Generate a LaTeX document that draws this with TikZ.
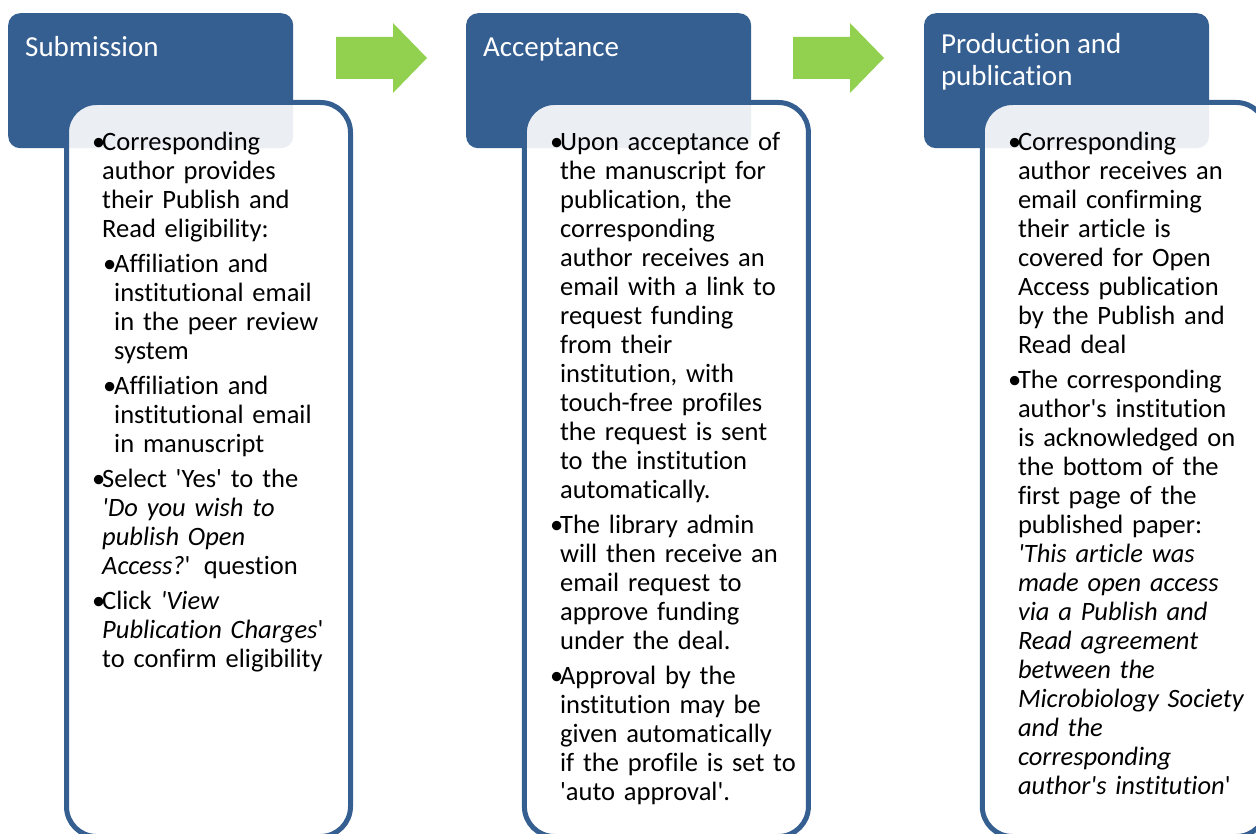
\documentclass[tikz,border=0pt]{standalone}
\usepackage{fontspec}
\setmainfont{Carlito}[Ligatures={TeX,NoCommon}]
\usepackage{xcolor}
\definecolor{colorHead}{HTML}{365F91}
\definecolor{colorArrow}{HTML}{92D050}
\usepackage{tikz}
\usetikzlibrary{positioning}
\newcommand{\sq}{\textquotesingle}
\newcommand{\bulA}{\par\leftskip=10pt\parindent=-10pt\makebox[10pt][l]{\rule{0pt}{22pt}\textbullet}}
\newcommand{\bulB}{\par\leftskip=22pt\parindent=-11pt\makebox[11pt][l]{\rule{0pt}{22pt}\textbullet}}
\tikzset{
  headbox/.style={fill=colorHead, rounded corners=12pt, inner sep=0pt, minimum width=285pt, minimum height=135pt},
  detailbox/.style={draw=colorHead, line width=5pt, fill=white, fill opacity=0.9, rounded corners=30pt, inner sep=0pt, minimum width=284pt, minimum height=734pt},
  headtext/.style={inner sep=0pt, text=white, align=left, font={\fontsize{29}{32}\selectfont}},
  bodytext/.style={inner sep=0pt, text width=300pt, align=left, font={\fontsize{26.5}{29}\selectfont\setlength{\parskip}{6pt}}},
  steparrow/.style={fill=colorArrow}
}
\begin{document}
\begin{tikzpicture}[x=1pt, y=-1pt]
\clip (0,0) rectangle (1256,834);
\useasboundingbox (0,0) rectangle (1256,834);
% headers
\node[headbox, anchor=north west] (sub) at (8,13) {};
\node[headbox, right=172.5pt of sub] (acc) {};
\node[headbox, right=172.5pt of acc] (prod) {};
% detail boxes
\node[detailbox, below right=87pt and 56pt of sub.north west] (subD) {};
\node[detailbox, below right=87pt and 56pt of acc.north west] (accD) {};
\node[detailbox, below right=87pt and 56pt of prod.north west] (prodD) {};
% header texts
\node[headtext, below right=19pt and 17pt of sub.north west] (subT) {\rule{0pt}{24pt}Submission};
\node[headtext, below right=19pt and 17pt of acc.north west] (accT) {\rule{0pt}{24pt}Acceptance};
\node[headtext, below right=16pt and 17pt of prod.north west] (prodT) {\rule{0pt}{24pt}Production and\\publication};
% arrows
\foreach \x in {336, 793}
  \fill[steparrow] (\x,37) -- ++(57,0) -- ++(0,-14) -- ++(34,35) -- ++(-34,35) -- ++(0,-14) -- ++(-57,0) -- cycle;
% body texts
\node[bodytext, below right=15pt and 28pt of subD.north west] (subB) {%
\bulA Corresponding\newline author provides\newline their Publish and\newline Read eligibility:
\bulB Affiliation and\newline institutional email\newline in the peer review\newline system
\bulB Affiliation and\newline institutional email\newline in manuscript
\bulA Select \sq Yes\sq{} to the\newline \textit{\sq Do you wish to\newline publish Open\newline Access?}\sq{} question
\bulA Click \textit{\sq View\newline Publication Charges}\sq\newline to confirm eligibility\par};
\node[bodytext, below right=15pt and 28pt of accD.north west] (accB) {%
\bulA Upon acceptance of\newline the manuscript for\newline publication, the\newline corresponding\newline author receives an\newline email with a link to\newline request funding\newline from their\newline institution, with\newline touch-free profiles\newline the request is sent\newline to the institution\newline automatically.
\bulA The library admin\newline will then receive an\newline email request to\newline approve funding\newline under the deal.
\bulA Approval by the\newline institution may be\newline given automatically\newline if the profile is set to\newline \sq auto approval\sq.\par};
\node[bodytext, below right=15pt and 28pt of prodD.north west] (prodB) {%
\bulA Corresponding\newline author receives an\newline email confirming\newline their article is\newline covered for Open\newline Access publication\newline by the Publish and\newline Read deal
\bulA The corresponding\newline author\sq s institution\newline is acknowledged on\newline the bottom of the\newline first page of the\newline published paper:\newline \textit{\sq This article was\newline made open access\newline via a Publish and\newline Read agreement\newline between the\newline Microbiology Society\newline and the\newline corresponding\newline author\sq s institution}\sq\par};
\end{tikzpicture}
\end{document}
